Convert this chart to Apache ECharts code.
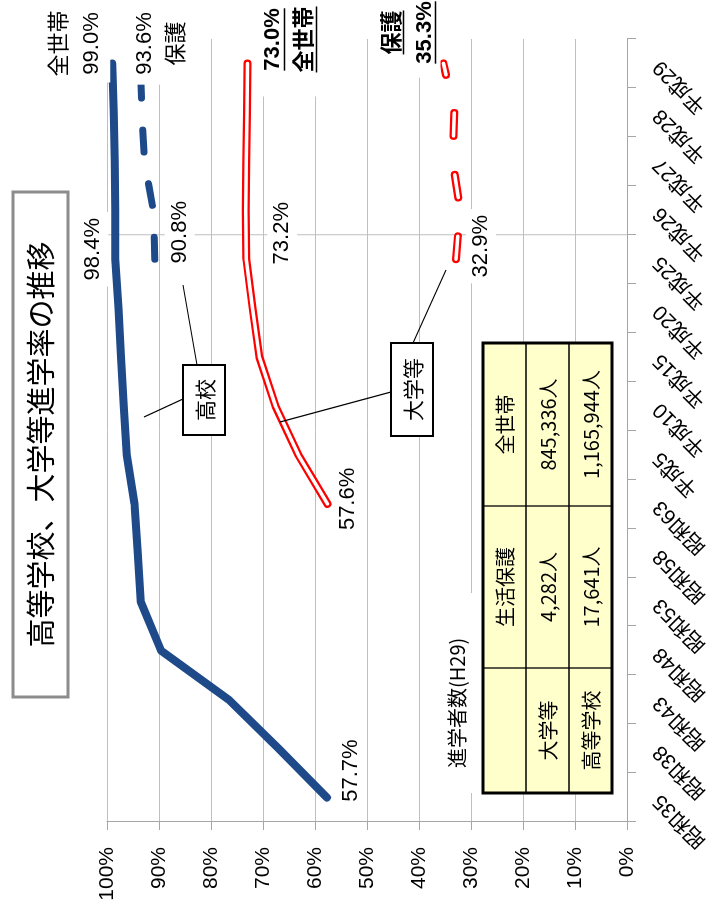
<!DOCTYPE html>
<html lang="ja">
<head>
<meta charset="utf-8">
<title>高等学校、大学等進学率の推移</title>
<script src="https://cdn.jsdelivr.net/npm/echarts@6/dist/echarts.min.js"></script>
<style>
  html, body { margin: 0; padding: 0; background: #fff; overflow: hidden; width: 718px; height: 908px; }
  /* the chart is laid out landscape and turned a quarter turn counter-clockwise */
  #chart { position: absolute; left: 0; top: 0; width: 908px; height: 718px;
           transform-origin: 0 0; transform: translate(0, 908px) rotate(-90deg); }
</style>
</head>
<body>
<div id="chart"></div>
<script>
// ---- data ----
const categories = ['昭和35', '昭和38', '昭和43', '昭和48', '昭和53', '昭和58', '昭和63', '平成5',
                    '平成10', '平成15', '平成20', '平成25', '平成26', '平成27', '平成28', '平成29'];
// 高等学校等進学率（全世帯）
const highSchoolAll = [57.7, 67.0, 76.6, 89.6, 93.5, 94.1, 94.7, 96.2, 96.8, 97.3, 97.8, 98.4, 98.4, 98.5, 98.7, 99.0];
// 高等学校等進学率（生活保護世帯）
const highSchoolWelfare = [null, null, null, null, null, null, null, null, null, null, null, 90.8, 91.1, 92.8, 93.3, 93.6];
// 大学等進学率（全世帯）
const collegeAll = [null, null, null, null, null, null, 57.6, 63.2, 67.6, 70.7, 72.0, 73.2, 73.3, 73.2, 73.1, 73.0];
// 大学等進学率（生活保護世帯）
const collegeWelfare = [null, null, null, null, null, null, null, null, null, null, null, 32.9, 32.1, 33.5, 33.2, 35.3];

// 進学者数（H29）
const tableCaption = '進学者数(H29)';
const tableHeader = ['', '生活保護', '全世帯'];
const tableRows = [
  ['大学等', '4,282人', '845,336人'],
  ['高等学校', '17,641人', '1,165,944人']
];

const titleText = '高等学校、大学等進学率の推移';

// ---- styling ----
const NUM_FONT = "'Liberation Sans','Noto Sans CJK JP',sans-serif";
const JP_FONT = "'Noto Sans CJK JP','Liberation Sans',sans-serif";
const AXIS_FONT = "'Liberation Sans Narrow','Liberation Sans',sans-serif";
const BLUE = '#1F4A8A';
const RED = '#FF0000';
const LABEL_SIZE = 22;

// which points carry a value label, and where the label sits relative to the point
const labelSpecs = {
  hsAll: { 0: { offset: [27, 24] }, 11: { offset: [10, -22] }, 15: { offset: [20, -36], pre: '全世帯' } },
  hsWel: { 11: { offset: [27, 25] }, 15: { offset: [20, 21], post: '保護', pad: [2, 10] } },
  coAll: { 6: { offset: [5, 20] }, 11: { offset: [26, 36] },
           15: { offset: [24, 42], post: '全世帯', bold: true, underline: true, pad: [2, 24] } },
  coWel: { 11: { offset: [13, 25] },
           15: { offset: [31, -35], pre: '保護', bold: true, underline: true, pad: [0, 14] } }
};

const pct = v => v.toFixed(1) + '%';

function labelLines(v, s) {
  const lines = [];
  if (s.pre) lines.push(s.pre);
  lines.push(pct(v));
  if (s.post) lines.push(s.post);
  return lines;
}

function withLabels(values, specs) {
  return values.map((v, i) => {
    const s = specs[i];
    if (v == null || !s) return v;
    const lines = labelLines(v, s);
    return {
      value: v,
      label: {
        show: true,
        position: 'inside',
        offset: s.offset,
        formatter: lines.join('\n'),
        fontWeight: s.bold ? 'bold' : 'normal',
        lineHeight: lines.length > 1 ? 32 : 26,
        padding: s.pad || [2, 6]
      }
    };
  });
}

const baseSeries = {
  type: 'line',
  symbol: 'circle',
  symbolSize: 1,
  showSymbol: true,
  showAllSymbol: true,
  itemStyle: { color: 'rgba(0,0,0,0)', borderWidth: 0 },
  silent: true,
  animation: false,
  emphasis: { disabled: true },
  label: {
    show: false, color: '#000', fontFamily: NUM_FONT, fontSize: LABEL_SIZE,
    backgroundColor: '#fff', align: 'center', verticalAlign: 'middle'
  }
};

const chart = echarts.init(document.getElementById('chart'), null, { width: 908, height: 718 });

chart.setOption({
  animation: false,
  backgroundColor: '#fff',
  grid: { left: 86, right: 39, top: 107, bottom: 91, containLabel: false },
  xAxis: {
    type: 'category',
    data: categories,
    boundaryGap: true,
    axisLine: { show: true, lineStyle: { color: '#A6A6A6', width: 1 } },
    axisTick: { show: true, length: 9, interval: 0, lineStyle: { color: '#A6A6A6' } },
    axisLabel: { interval: 0, rotate: 45, margin: 30, fontSize: 21, color: '#000', fontFamily: NUM_FONT },
    splitLine: { show: false }
  },
  yAxis: {
    type: 'value',
    min: 0, max: 100, interval: 10,
    axisLine: { show: true, lineStyle: { color: '#A6A6A6', width: 1 } },
    axisTick: { show: true, length: 8, lineStyle: { color: '#A6A6A6' } },
    axisLabel: { formatter: '{value}%', margin: 25, fontSize: 21, color: '#000', fontFamily: AXIS_FONT },
    splitLine: { show: true, lineStyle: { color: '#BFBFBF', width: 1 } }
  },
  series: [
    Object.assign({}, baseSeries, {
      name: '高校（全世帯）', z: 3,
      data: withLabels(highSchoolAll, labelSpecs.hsAll),
      lineStyle: { color: BLUE, width: 8, cap: 'round', join: 'round' }
    }),
    Object.assign({}, baseSeries, {
      name: '高校（生活保護）', z: 3,
      data: withLabels(highSchoolWelfare, labelSpecs.hsWel),
      lineStyle: { color: BLUE, width: 7, type: [22, 32], cap: 'round', join: 'round' }
    }),
    // 大学等: red outline drawn as a wide red stroke with a thin white core
    Object.assign({}, baseSeries, {
      name: '大学等（全世帯）', z: 3,
      data: collegeAll,
      lineStyle: { color: RED, width: 8, cap: 'round', join: 'round' }
    }),
    Object.assign({}, baseSeries, {
      name: '大学等（全世帯）', z: 4,
      data: withLabels(collegeAll, labelSpecs.coAll),
      lineStyle: { color: '#fff', width: 3.5, cap: 'round', join: 'round' }
    }),
    Object.assign({}, baseSeries, {
      name: '大学等（生活保護）', z: 3,
      data: collegeWelfare,
      lineStyle: { color: RED, width: 8, type: [23, 39], cap: 'round', join: 'round' }
    }),
    Object.assign({}, baseSeries, {
      name: '大学等（生活保護）', z: 4,
      data: withLabels(collegeWelfare, labelSpecs.coWel),
      lineStyle: { color: '#fff', width: 3.5, type: [23, 39], cap: 'round', join: 'round' }
    })
  ]
});

// ---- annotations ----
const G = [];
const Z = 10;

// title box
G.push({ type: 'rect', z: Z, shape: { x: 211, y: 13, width: 505, height: 55 },
         style: { fill: '#fff', stroke: '#8C8C8C', lineWidth: 3 } });
G.push({ type: 'text', z: Z + 1, style: { text: titleText, x: 463.5, y: 41, align: 'center', verticalAlign: 'middle',
         font: "29px " + JP_FONT, fill: '#000' } });

// divider between the long-term and the recent yearly section
const px = (i, v) => chart.convertToPixel({ xAxisIndex: 0, yAxisIndex: 0 }, [i, v]);
const splitX = (px(11, 0)[0] + px(12, 0)[0]) / 2;
G.push({ type: 'line', z: 1, shape: { x1: splitX, y1: px(0, 100)[1] - 4, x2: splitX, y2: px(0, 0)[1] },
         style: { stroke: '#BFBFBF', lineWidth: 1 } });

// callout boxes
function callout(x, y, w, h, text, leaders) {
  leaders.forEach(l => G.push({ type: 'line', z: Z, shape: { x1: l[0], y1: l[1], x2: l[2], y2: l[3] },
                                style: { stroke: '#000', lineWidth: 1.2 } }));
  G.push({ type: 'rect', z: Z + 1, shape: { x, y, width: w, height: h },
           style: { fill: '#fff', stroke: '#000', lineWidth: 2 } });
  G.push({ type: 'text', z: Z + 2, style: { text, x: x + w / 2, y: y + h / 2 + 1, align: 'center', verticalAlign: 'middle',
           font: "21px " + JP_FONT, fill: '#000' } });
}
callout(473, 183, 70, 42, '高校', [[509, 183, 491, 144], [543, 197, 623, 183]]);
callout(472, 391, 93, 42, '大学等', [[516, 391, 486, 280], [565, 413, 638, 446]]);

// table of enrolment counts
G.push({ type: 'rect', z: Z, shape: { x: 115, y: 432, width: 200, height: 50 }, style: { fill: '#fff' } });
G.push({ type: 'text', z: Z + 1, style: { text: tableCaption, x: 140, y: 457, align: 'left', verticalAlign: 'middle',
         font: "20px " + JP_FONT, fill: '#000' } });

const tX = 115, tY = 483, colW = [125, 162, 163], rowH = 43;
const tW = colW.reduce((a, b) => a + b, 0), tH = rowH * 3;
G.push({ type: 'rect', z: Z, shape: { x: tX, y: tY, width: tW, height: tH }, style: { fill: '#FFFFCC' } });
let cx = tX;
const colX = colW.map(w => { const s = cx; cx += w; return s; });
for (let c = 1; c < 3; c++) {
  G.push({ type: 'line', z: Z + 1, shape: { x1: colX[c], y1: tY, x2: colX[c], y2: tY + tH }, style: { stroke: '#000', lineWidth: 1.3 } });
}
for (let r = 1; r < 3; r++) {
  G.push({ type: 'line', z: Z + 1, shape: { x1: tX, y1: tY + r * rowH, x2: tX + tW, y2: tY + r * rowH }, style: { stroke: '#000', lineWidth: 1.3 } });
}
G.push({ type: 'rect', z: Z + 2, shape: { x: tX, y: tY, width: tW, height: tH }, style: { fill: 'none', stroke: '#000', lineWidth: 3 } });
[tableHeader].concat(tableRows).forEach((row, r) => {
  row.forEach((cell, c) => {
    if (!cell) return;
    G.push({ type: 'text', z: Z + 3, style: { text: cell, x: colX[c] + colW[c] / 2, y: tY + r * rowH + rowH / 2 + 1,
             align: 'center', verticalAlign: 'middle', font: "20px " + JP_FONT, fill: '#000' } });
  });
});

// underlines for the emphasised latest-year labels
const measureCtx = document.createElement('canvas').getContext('2d');
function underlines(values, specs) {
  Object.keys(specs).forEach(k => {
    const i = +k, s = specs[k], v = values[i];
    if (!s.underline || v == null) return;
    const lines = labelLines(v, s);
    const p = px(i, v);
    const cxl = p[0] + s.offset[0], cyl = p[1] + s.offset[1];
    const lh = lines.length > 1 ? 32 : 26;
    lines.forEach((t, n) => {
      measureCtx.font = (s.bold ? 'bold ' : '') + LABEL_SIZE + 'px ' + NUM_FONT;
      const w = measureCtx.measureText(t).width;
      const ly = cyl + (n - (lines.length - 1) / 2) * lh + LABEL_SIZE * 0.5;
      G.push({ type: 'line', z: Z + 5, shape: { x1: cxl - w / 2, y1: ly, x2: cxl + w / 2, y2: ly },
               style: { stroke: '#000', lineWidth: 1.5 } });
    });
  });
}
underlines(collegeAll, labelSpecs.coAll);
underlines(collegeWelfare, labelSpecs.coWel);

chart.setOption({ graphic: { elements: G } });
</script>
</body>
</html>
